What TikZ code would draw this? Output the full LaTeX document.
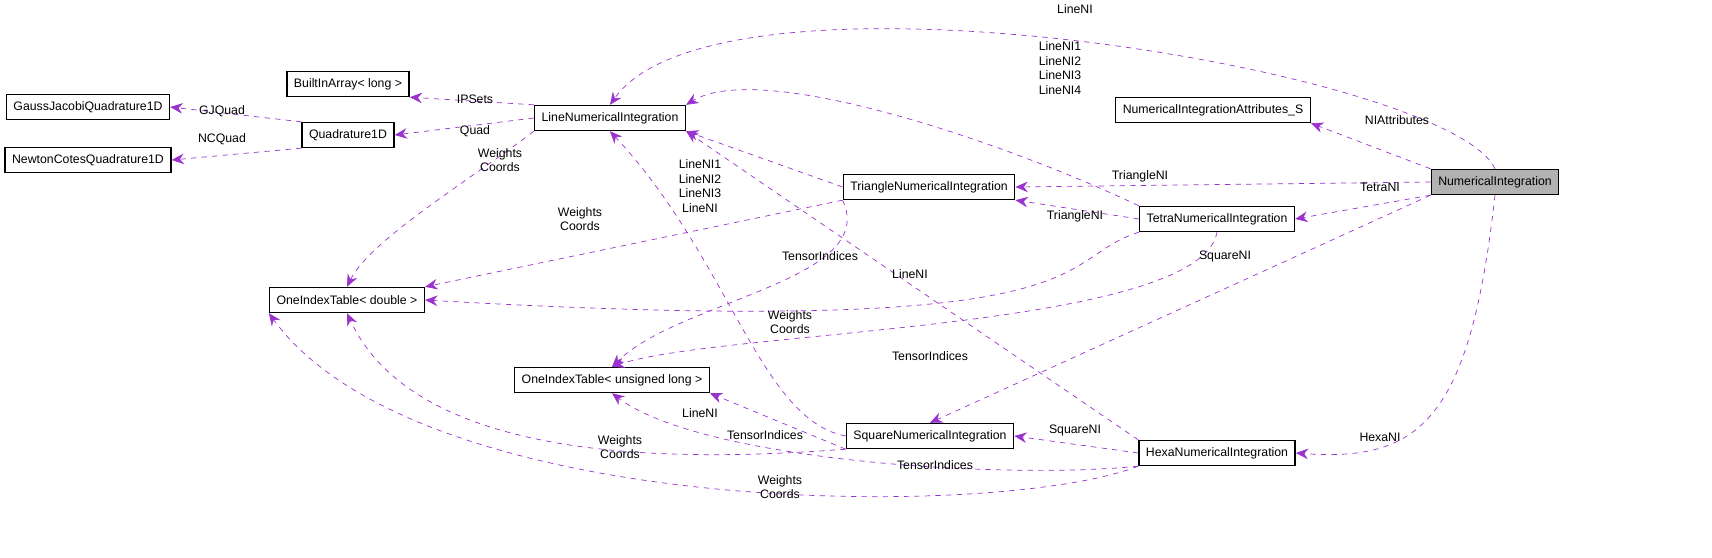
\documentclass[tikz,border=0pt]{standalone}
\usepackage{fontspec}
\setmainfont{Liberation Sans}
\usetikzlibrary{arrows.meta}
\definecolor{edgecol}{HTML}{9A32CD}
\begin{document}
\begin{tikzpicture}[
    x=0.02cm, y=-0.02cm,
    font=\fontsize{7}{8.2}\selectfont,
    cls/.style={draw, thick, minimum height=0.5cm, inner xsep=4pt, fill=white},
    main/.style={cls, fill=black!30},
    use/.style={-{Stealth[length=7pt,width=6pt]}, edgecol, dashed, thin},
    lbl/.style={align=center, inner sep=0pt}
  ]
  \useasboundingbox (0,0) rectangle (1712,558);

  % classes
  \node[main] (ni) at (1495,182) {NumericalIntegration};
  \node[cls] (attr) at (1213,110) {NumericalIntegrationAttributes\_S};
  \node[cls] (tri) at (929,187) {TriangleNumericalIntegration};
  \node[cls] (tetra) at (1217,219) {TetraNumericalIntegration};
  \node[cls] (line) at (610,118) {LineNumericalIntegration};
  \node[cls] (bia) at (348,84) {BuiltInArray\textless{} long \textgreater};
  \node[cls] (quad) at (348,135) {Quadrature1D};
  \node[cls] (gj) at (88,107) {GaussJacobiQuadrature1D};
  \node[cls] (nc) at (88,160) {NewtonCotesQuadrature1D};
  \node[cls] (oitd) at (347,300) {OneIndexTable\textless{} double \textgreater};
  \node[cls] (oitu) at (612,380) {OneIndexTable\textless{} unsigned long \textgreater};
  \node[cls] (sq) at (930,436) {SquareNumericalIntegration};
  \node[cls] (hexa) at (1217,453) {HexaNumericalIntegration};

  % NumericalIntegration
  \draw[use] (ni.north) .. controls (1450,70) and (720,-50) .. (line.north);
  \draw[use] (ni.north west) -- (attr.south east);
  \draw[use] (ni.west) -- (tri.east);
  \draw[use] (ni.south west) -- (tetra.east);
  \draw[use] (ni.south west) -- (sq.north);
  \draw[use] (ni.south) .. controls (1470,420) and (1420,462) .. (hexa.east);

  % Tetra
  \draw[use] (tetra.north west) .. controls (1000,140) and (760,60) .. (line.north east);
  \draw[use] (tetra.west) -- (tri.south east);
  \draw[use] (tetra.south west) .. controls (1050,260) and (1120,340) .. (oitd.east);
  \draw[use] (tetra.south) .. controls (1200,330) and (720,330) .. (oitu.north);

  % Triangle
  \draw[use] (tri.west) -- (line.south east);
  \draw[use] (tri.south west) -- (oitd.north east);
  \draw[use] (tri.south west) .. controls (880,280) and (680,300) .. (oitu.north);

  % Line
  \draw[use] (line.north west) -- (bia.south east);
  \draw[use] (line.west) -- (quad.east);
  \draw[use] (line.south west) .. controls (470,180) and (370,240) .. (oitd.north);
  \draw[use] (quad.north west) -- (gj.east);
  \draw[use] (quad.south west) -- (nc.east);

  % Square
  \draw[use] (sq.west) .. controls (760,420) and (730,260) .. (line.south);
  \draw[use] (sq.south west) -- (oitu.south east);
  \draw[use] (sq.south west) .. controls (700,460) and (420,470) .. (oitd.south);

  % Hexa
  \draw[use] (hexa.north west) -- (line.south east);
  \draw[use] (hexa.west) -- (sq.east);
  \draw[use] (hexa.south west) .. controls (1000,480) and (700,460) .. (oitu.south);
  \draw[use] (hexa.south west) .. controls (1000,520) and (420,520) .. (oitd.south west);

  % labels
  \node[lbl] (l1) at (1075,9) {LineNI};
  \node[lbl] (l2) at (1397,120) {NIAttributes};
  \node[lbl] (l3) at (1140,176) {TriangleNI};
  \node[lbl] (l4) at (1380,187) {TetraNI};
  \node[lbl] (l5) at (1225,256) {SquareNI};
  \node[lbl] (l6) at (1380,437) {HexaNI};
  \node[lbl] (l7) at (1060,68) {LineNI1\\LineNI2\\LineNI3\\LineNI4};
  \node[lbl] (l8) at (1075,216) {TriangleNI};
  \node[lbl] (l9) at (790,322) {Weights\\Coords};
  \node[lbl] (l10) at (930,356) {TensorIndices};
  \node[lbl] (l11) at (700,186) {LineNI1\\LineNI2\\LineNI3\\LineNI};
  \node[lbl] (l12) at (580,219) {Weights\\Coords};
  \node[lbl] (l13) at (820,256) {TensorIndices};
  \node[lbl] (l14) at (475,99) {IPSets};
  \node[lbl] (l15) at (475,131) {Quad};
  \node[lbl] (l16) at (500,160) {Weights\\Coords};
  \node[lbl] (l17) at (222,111) {GJQuad};
  \node[lbl] (l18) at (222,139) {NCQuad};
  \node[lbl] (l19) at (700,413) {LineNI};
  \node[lbl] (l20) at (765,435) {TensorIndices};
  \node[lbl] (l21) at (620,447) {Weights\\Coords};
  \node[lbl] (l22) at (910,274) {LineNI};
  \node[lbl] (l23) at (1075,430) {SquareNI};
  \node[lbl] (l24) at (935,465) {TensorIndices};
  \node[lbl] (l25) at (780,487) {Weights\\Coords};
\end{tikzpicture}
\end{document}
